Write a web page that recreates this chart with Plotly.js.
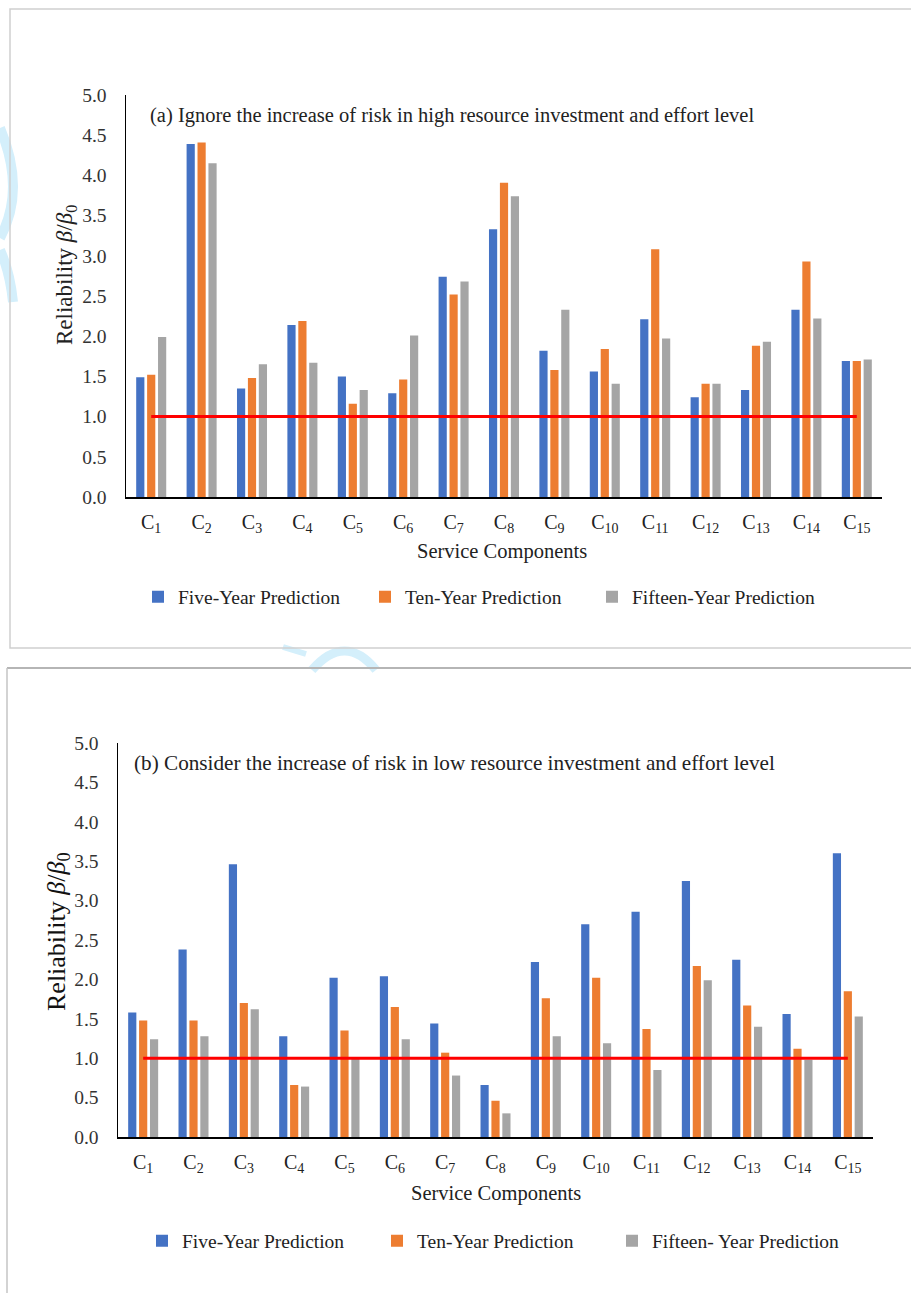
<!DOCTYPE html>
<html>
<head>
<meta charset="utf-8">
<script src="https://cdn.plot.ly/plotly-3.0.1.min.js"></script>
<style>html,body{margin:0;padding:0;background:#fff;}#chart{width:911px;height:1293px;}</style>
</head>
<body>
<div id="chart"></div>
<script>
// ---- data ----
const categories = ['C1','C2','C3','C4','C5','C6','C7','C8','C9','C10','C11','C12','C13','C14','C15'];
const tickLabels = ['C<sub>1</sub>','C<sub>2</sub>','C<sub>3</sub>','C<sub>4</sub>','C<sub>5</sub>','C<sub>6</sub>','C<sub>7</sub>','C<sub>8</sub>','C<sub>9</sub>','C<sub>10</sub>','C<sub>11</sub>','C<sub>12</sub>','C<sub>13</sub>','C<sub>14</sub>','C<sub>15</sub>'];
const yTicks = [0,0.5,1,1.5,2,2.5,3,3.5,4,4.5,5];
const seriesNames = ['Five-Year Prediction','Ten-Year Prediction','Fifteen-Year Prediction'];
const seriesNamesB = ['Five-Year Prediction','Ten-Year Prediction','Fifteen- Year Prediction'];
// (a) Ignore the increase of risk in high resource investment and effort level
const fiveA    = [1.49,4.39,1.35,2.14,1.50,1.29,2.74,3.33,1.82,1.56,2.21,1.24,1.33,2.33,1.69];
const tenA     = [1.52,4.41,1.48,2.19,1.16,1.46,2.52,3.91,1.58,1.84,3.08,1.41,1.88,2.93,1.69];
const fifteenA = [1.99,4.15,1.65,1.67,1.33,2.01,2.68,3.74,2.33,1.41,1.97,1.41,1.93,2.22,1.71];
// (b) Consider the increase of risk in low resource investment and effort level
const fiveB    = [1.58,2.38,3.46,1.28,2.02,2.04,1.44,0.66,2.22,2.70,2.86,3.25,2.25,1.56,3.60];
const tenB     = [1.48,1.48,1.70,0.66,1.35,1.65,1.07,0.46,1.76,2.02,1.37,2.17,1.67,1.12,1.85];
const fifteenB = [1.24,1.28,1.62,0.64,1.00,1.24,0.78,0.30,1.28,1.19,0.85,1.99,1.40,0.98,1.53];
const threshold = 1.0;
const titleA = '(a) Ignore the increase of risk in high resource investment and effort level';
const titleB = '(b) Consider the increase of risk in low resource investment and effort level';

// ---- styling ----
const W = 911, H = 1293;
const px = v => v / W;
const py = v => 1 - v / H;
const colors = ['#4472C4', '#ED7D31', '#A5A5A5'];
const serif = '"Liberation Serif", "Times New Roman", serif';

function bars(vals, names, xa, ya, leg) {
  return vals.map((v, i) => ({
    type: 'bar', x: categories, y: v, name: names[i], xaxis: xa, yaxis: ya,
    legend: leg, marker: {color: colors[i], line: {width: 0}}, hoverinfo: 'x+y+name'
  }));
}
const traces = [
  ...bars([fiveA, tenA, fifteenA], seriesNames, 'x', 'y', 'legend'),
  ...bars([fiveB, tenB, fifteenB], seriesNamesB, 'x2', 'y2', 'legend2'),
  {type: 'scatter', mode: 'lines', x: categories, y: categories.map(() => threshold),
   xaxis: 'x', yaxis: 'y', line: {color: '#FF0000', width: 3}, showlegend: false},
  {type: 'scatter', mode: 'lines', x: categories, y: categories.map(() => threshold),
   xaxis: 'x2', yaxis: 'y2', line: {color: '#FF0000', width: 3}, showlegend: false}
];

function xAxis(domain, anchor) {
  return {domain, anchor, type: 'category', range: [-0.5, 14.5],
    tickvals: categories, ticktext: tickLabels, ticks: '', showgrid: false, zeroline: false,
    showline: true, linecolor: '#000', linewidth: 1.5, ticklabelstandoff: 6,
    tickfont: {family: serif, size: 20, color: '#222'}, fixedrange: true};
}
function yAxis(domain, anchor) {
  return {domain, anchor, range: [0, 5], tickvals: yTicks, tickformat: '.1f', ticks: '',
    showgrid: false, zeroline: false, showline: true, linecolor: '#000', linewidth: 1.5,
    ticklabelstandoff: 14, tickfont: {family: serif, size: 19.5, color: '#333'}, fixedrange: true};
}

const layout = {
  width: W, height: H, margin: {l: 0, r: 0, t: 0, b: 0},
  paper_bgcolor: '#fff', plot_bgcolor: 'rgba(0,0,0,0)',
  barmode: 'group', bargap: 0.35, bargroupgap: 0.25,
  xaxis: xAxis([px(126), px(882)], 'y'),
  yaxis: yAxis([py(497), py(95)], 'x'),
  xaxis2: xAxis([px(118), px(873)], 'y2'),
  yaxis2: yAxis([py(1137), py(743)], 'x2'),
  legend: {orientation: 'h', x: px(138), y: py(597), xanchor: 'left', yanchor: 'middle',
    font: {family: serif, size: 19.5, color: '#222'}, bgcolor: 'rgba(0,0,0,0)',
    entrywidth: 182, entrywidthmode: 'pixels', traceorder: 'normal', itemclick: false},
  legend2: {orientation: 'h', x: px(142), y: py(1241), xanchor: 'left', yanchor: 'middle',
    font: {family: serif, size: 19.5, color: '#222'}, bgcolor: 'rgba(0,0,0,0)',
    entrywidth: 190, entrywidthmode: 'pixels', traceorder: 'normal', itemclick: false},
  annotations: [
    {text: titleA, xref: 'paper', yref: 'paper', x: px(148), y: py(116), xanchor: 'left', yanchor: 'middle',
     showarrow: false, font: {family: serif, size: 20.5, color: '#222'}},
    {text: titleB, xref: 'paper', yref: 'paper', x: px(132), y: py(763), xanchor: 'left', yanchor: 'middle',
     showarrow: false, font: {family: serif, size: 21.2, color: '#222'}},
    {text: 'Service Components', xref: 'paper', yref: 'paper', x: px(502), y: py(551), xanchor: 'center', yanchor: 'middle',
     showarrow: false, font: {family: serif, size: 20.5, color: '#222'}},
    {text: 'Service Components', xref: 'paper', yref: 'paper', x: px(496), y: py(1193), xanchor: 'center', yanchor: 'middle',
     showarrow: false, font: {family: serif, size: 20.5, color: '#222'}},
    {text: 'Reliability <i>β</i>/<i>β</i><sub>0</sub>', xref: 'paper', yref: 'paper', x: px(66), y: py(275),
     xanchor: 'center', yanchor: 'middle', textangle: -90, showarrow: false,
     font: {family: serif, size: 23, color: '#222'}},
    {text: 'Reliability <i>β</i>/<i>β</i><sub>0</sub>', xref: 'paper', yref: 'paper', x: px(58), y: py(932),
     xanchor: 'center', yanchor: 'middle', textangle: -90, showarrow: false,
     font: {family: serif, size: 26, color: '#111'}}
  ],
  shapes: [
    // faint watermark strokes
    {type: 'path', xref: 'paper', yref: 'paper', layer: 'below',
     path: `M ${px(0)} ${py(128)} Q ${px(26)} ${py(190)} ${px(0)} ${py(238)}`,
     line: {color: '#d4effb', width: 10}},
    {type: 'path', xref: 'paper', yref: 'paper', layer: 'below',
     path: `M ${px(0)} ${py(250)} Q ${px(10)} ${py(272)} ${px(13)} ${py(302)}`,
     line: {color: '#d4effb', width: 10}},
    {type: 'path', xref: 'paper', yref: 'paper', layer: 'below',
     path: `M ${px(312)} ${py(670)} Q ${px(345)} ${py(632)} ${px(376)} ${py(670)}`,
     line: {color: '#d4effb', width: 9}},
    {type: 'path', xref: 'paper', yref: 'paper', layer: 'below',
     path: `M ${px(283)} ${py(647)} L ${px(306)} ${py(654)}`,
     line: {color: '#d4effb', width: 6}},
    // panel boxes
    {type: 'rect', xref: 'paper', yref: 'paper', layer: 'below',
     x0: px(10), x1: px(930), y0: py(9), y1: py(648), line: {color: '#cfcfcf', width: 1.5}},
    {type: 'line', xref: 'paper', yref: 'paper', layer: 'below',
     x0: px(7), x1: px(930), y0: py(668), y1: py(668), line: {color: '#b5b5b5', width: 2}},
    {type: 'line', xref: 'paper', yref: 'paper', layer: 'below',
     x0: px(7), x1: px(7), y0: py(668), y1: py(1310), line: {color: '#c4c4c4', width: 1.5}}
  ]
};

Plotly.newPlot('chart', traces, layout, {staticPlot: true, displayModeBar: false});
</script>
</body>
</html>
